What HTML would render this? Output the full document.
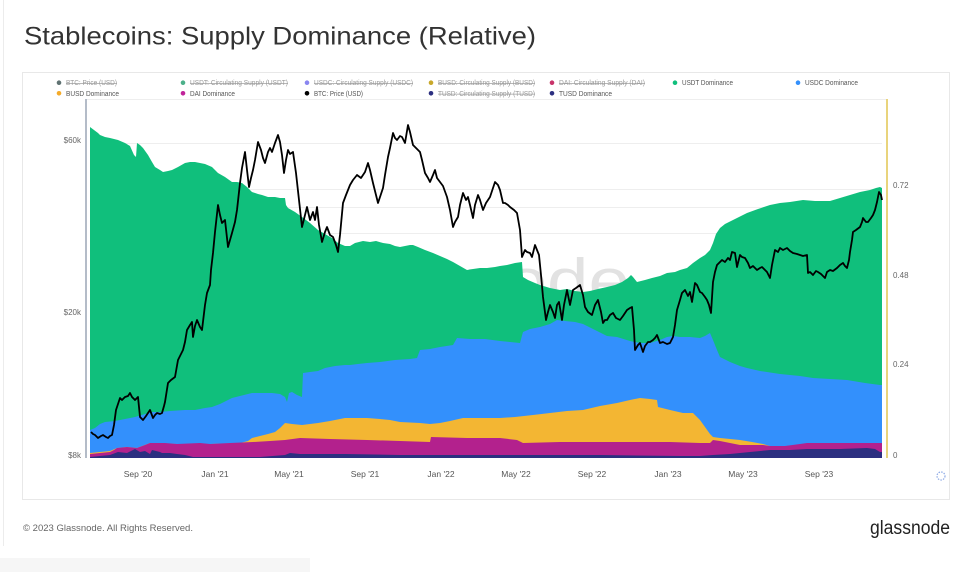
<!DOCTYPE html>
<html><head><meta charset="utf-8"><style>
html,body{margin:0;padding:0;background:#fff;}
svg{display:block;}
text{font-family:"Liberation Sans",Arial,sans-serif;}
</style></head><body>
<svg width="972" height="572" viewBox="0 0 972 572" xmlns="http://www.w3.org/2000/svg">
<rect x="0" y="0" width="972" height="572" fill="#fff"/>
<line x1="3.5" y1="0" x2="3.5" y2="546" stroke="#ececec" stroke-width="1"/>
<rect x="0" y="558" width="310" height="14" fill="#f6f6f6"/>

<text x="24" y="44.5" font-size="25" fill="#333" textLength="512" lengthAdjust="spacingAndGlyphs">Stablecoins: Supply Dominance (Relative)</text>

<rect x="22.5" y="72.5" width="927" height="427" fill="#fff" stroke="#e8e8e8" stroke-width="1"/>

<!-- legend -->
<g font-size="7">
<circle cx="59" cy="82.7" r="2.3" fill="#5f7272"/>
<text x="66" y="85.2" fill="#999" textLength="51" lengthAdjust="spacingAndGlyphs" style="text-decoration:line-through">BTC: Price (USD)</text>
<circle cx="183" cy="82.7" r="2.3" fill="#4cb08a"/>
<text x="190" y="85.2" fill="#999" textLength="98" lengthAdjust="spacingAndGlyphs" style="text-decoration:line-through">USDT: Circulating Supply (USDT)</text>
<circle cx="307" cy="82.7" r="2.3" fill="#8a86f0"/>
<text x="314" y="85.2" fill="#999" textLength="99" lengthAdjust="spacingAndGlyphs" style="text-decoration:line-through">USDC: Circulating Supply (USDC)</text>
<circle cx="431" cy="82.7" r="2.3" fill="#c8a82a"/>
<text x="438" y="85.2" fill="#999" textLength="97" lengthAdjust="spacingAndGlyphs" style="text-decoration:line-through">BUSD: Circulating Supply (BUSD)</text>
<circle cx="552" cy="82.7" r="2.3" fill="#c8336a"/>
<text x="559" y="85.2" fill="#999" textLength="86" lengthAdjust="spacingAndGlyphs" style="text-decoration:line-through">DAI: Circulating Supply (DAI)</text>
<circle cx="675" cy="82.7" r="2.3" fill="#10bf7c"/>
<text x="682" y="85.2" fill="#555" textLength="51" lengthAdjust="spacingAndGlyphs">USDT Dominance</text>
<circle cx="798" cy="82.7" r="2.3" fill="#3390fc"/>
<text x="805" y="85.2" fill="#555" textLength="53" lengthAdjust="spacingAndGlyphs">USDC Dominance</text>

<circle cx="59" cy="93.3" r="2.3" fill="#f5ab2a"/>
<text x="66" y="95.8" fill="#555" textLength="53" lengthAdjust="spacingAndGlyphs">BUSD Dominance</text>
<circle cx="183" cy="93.3" r="2.3" fill="#c0249a"/>
<text x="190" y="95.8" fill="#555" textLength="45" lengthAdjust="spacingAndGlyphs">DAI Dominance</text>
<circle cx="307" cy="93.3" r="2.3" fill="#000"/>
<text x="314" y="95.8" fill="#555" textLength="49" lengthAdjust="spacingAndGlyphs">BTC: Price (USD)</text>
<circle cx="431" cy="93.3" r="2.3" fill="#2c2f80"/>
<text x="438" y="95.8" fill="#999" textLength="97" lengthAdjust="spacingAndGlyphs" style="text-decoration:line-through">TUSD: Circulating Supply (TUSD)</text>
<circle cx="552" cy="93.3" r="2.3" fill="#2c2f80"/>
<text x="559" y="95.8" fill="#555" textLength="53" lengthAdjust="spacingAndGlyphs">TUSD Dominance</text>
</g>

<!-- gridlines -->
<g stroke="#eeeeee" stroke-width="1">
<line x1="86" y1="99.5" x2="887" y2="99.5"/>
<line x1="90" y1="143.5" x2="882" y2="143.5"/>
<line x1="90" y1="189.5" x2="882" y2="189.5"/>
<line x1="90" y1="207.5" x2="882" y2="207.5"/>
<line x1="90" y1="233.5" x2="882" y2="233.5"/>
</g>

<!-- watermark -->
<text x="290" y="302" font-size="62" fill="#e2e2e2" textLength="340" lengthAdjust="spacingAndGlyphs">glassnode</text>

<!-- USDT (green) -->
<polygon fill="#10bf7c" points="90,127 98,133 100,135 105,137 110,138 118,140 125,143 130,146 134,155 136,157 137,143 140,145 143,148 148,155 152,162 155,167 160,170 163,172 168,171 172,170 178,167 185,163 190,162 195,162 200,163 205,164 212,167 215,170 218,173 225,177 232,182 237,182 242,183 247,187 252,192 258,194 262,195 268,197 275,197 280,198 285,198 286,205 288,208 295,212 302,217 310,223 318,230 325,234 332,238 338,243 345,246 350,246 355,243 363,241 370,242 376,241 383,243 390,244 395,246 400,247 405,246 410,245 413,245 418,247 425,250 433,253 440,256 447,259 453,262 460,266 467,270 473,269 480,268 487,268 495,267 500,266 507,265 515,263 522,262 523,277 528,280 535,283 540,285 550,288 560,290 567,289 575,291 583,292 590,291 598,289 607,287 615,285 622,282 628,278 631,275 633,277 637,282 645,280 652,278 660,276 667,273 675,272 680,270 687,268 693,263 700,258 705,255 710,250 713,243 716,234 720,228 725,224 735,219 747,213 758,209 770,205 780,203 790,202 803,200 815,201 830,201 840,198 850,195 860,192 870,190 876,188 880,187 882,188 882,458 90,458"/>

<!-- USDC (blue) -->
<polygon fill="#3390fc" points="90,430 95,428 100,424 105,422 115,421 125,419 135,417 145,414 152,412 160,412 170,411 185,410 195,410 205,408 212,407 220,404 226,401 232,398 240,396 252,393 262,393 272,393 280,394 285,397 287,402 289,393 292,392 297,395 302,397 303,373 310,372 318,371 325,368 335,366 345,365 350,365 358,364 367,363 380,362 395,360 410,359 417,358 420,350 430,349 440,347 453,345 457,338 470,339 485,339 500,341 510,342 520,343 523,332 530,329 540,327 550,324 557,320 565,321 575,322 583,324 595,330 607,336 617,337 630,341 640,343 650,343 660,340 667,337 673,336 680,337 690,337 700,338 705,336 710,333 713,340 717,350 720,357 730,362 740,366 747,368 760,371 780,374 800,376 813,378 830,379 847,380 865,383 880,385 882,385 882,458 90,458"/>

<!-- BUSD (yellow) -->
<polygon fill="#f3b633" points="90,453 100,452 110,451 117,448 127,447 137,448 150,443 177,444 210,444 240,443 248,441 252,438 260,436 268,434 275,432 280,428 285,423 292,424 302,425 310,424 318,423 330,421 345,418 360,418 367,418 380,419 390,420 400,422 420,423 430,424 440,423 450,421 463,418 480,418 500,418 515,417 533,415 550,413 567,411 583,410 600,406 617,403 630,400 640,398 650,399 657,400 658,407 670,410 683,413 693,413 700,420 705,427 710,434 713,437 720,438 730,439 740,440 752,442 763,444 770,446 882,447 882,458 90,458"/>

<!-- DAI (magenta) -->
<polygon fill="#b3218d" points="90,454 100,453 110,452 114,450 117,448 127,447 137,448 145,445 150,443 165,443 177,444 200,443 210,444 230,443 253,442 270,441 285,440 300,438 330,439 367,440 400,441 430,442 431,437 467,438 500,438 517,440 523,443 560,442 600,442 633,442 670,442 700,443 710,443 713,440 720,441 740,445 763,445 770,446 785,446 800,444 807,443 850,443 880,443 882,443 882,458 90,458"/>

<!-- TUSD (navy) -->
<polygon fill="#2c2f80" points="90,457 100,456 110,455 118,452 127,453 135,449 140,452 145,451 150,454 152,450 160,452 162,453 170,453 177,454 185,455 193,457 260,457 285,455 290,453 300,454 345,454 400,455 500,455 600,455 680,456 700,456 713,455 730,454 750,452 770,450 790,450 807,449 840,449 867,448 875,449 880,452 882,452 882,458 90,458"/>

<!-- BTC price -->
<polyline fill="none" stroke="#000" stroke-width="1.8" stroke-linejoin="round" points="91,432 93,434 95,435 97,437 98,438 101,436 103,435 106,437 108,438 110,436 112,435 114,425 116,410 118,404 120,398 122,400 125,397 128,396 130,393 132,397 135,400 138,397 140,417 143,420 146,416 150,410 153,418 155,415 157,413 160,414 162,413 164,406 165,402 168,383 171,380 175,377 178,360 180,356 183,350 185,342 187,330 190,325 192,322 193,337 195,326 197,320 200,327 202,330 205,305 207,293 210,285 211,270 213,253 215,232 218,205 220,215 222,223 225,220 228,247 230,240 232,233 235,222 237,210 240,183 242,168 245,152 247,170 249,187 251,178 253,170 255,160 258,142 261,150 263,158 265,163 268,152 270,148 272,152 275,143 278,135 280,142 282,155 284,173 286,160 288,150 290,154 293,152 296,173 299,200 302,227 305,215 307,207 310,220 313,212 315,220 317,207 319,225 322,242 325,232 327,227 330,235 333,237 336,245 338,252 340,235 343,203 346,195 350,185 353,180 357,175 361,178 365,172 368,163 370,170 373,183 376,195 378,203 380,197 383,188 385,175 388,157 390,148 393,133 395,138 397,140 400,136 402,137 405,143 408,125 410,132 413,145 416,148 420,152 422,160 425,173 428,178 430,182 433,175 435,170 437,178 440,182 443,186 447,197 450,210 453,227 455,222 458,217 460,205 463,193 466,200 468,197 470,205 473,218 475,205 478,195 480,200 483,210 486,203 490,197 493,188 495,182 498,185 500,190 503,203 505,203 508,205 510,207 514,210 517,213 520,230 522,257 525,250 527,252 530,253 532,257 535,245 537,250 539,255 541,275 543,297 546,320 548,312 550,305 553,312 555,318 557,305 559,302 562,320 564,305 567,290 570,305 573,290 576,288 580,285 583,295 585,307 588,312 592,315 595,305 598,300 601,312 603,323 605,320 607,320 610,315 613,313 616,318 620,320 623,316 627,310 630,308 632,307 634,330 635,350 638,345 640,343 643,352 645,346 648,342 650,342 653,340 655,338 657,335 660,343 663,342 667,344 670,343 673,337 675,325 677,310 680,300 682,293 685,290 688,296 690,292 692,302 695,283 697,285 700,292 702,293 705,297 707,300 709,305 711,313 713,282 715,272 717,265 720,262 722,260 725,262 728,258 730,260 732,252 735,253 737,267 740,255 742,257 745,258 748,263 750,268 753,266 757,270 760,268 762,267 765,270 767,272 770,278 772,265 775,250 778,252 780,248 783,250 787,248 790,251 793,253 797,254 800,255 803,256 807,255 808,273 810,272 813,275 816,271 818,272 821,274 825,278 827,272 830,270 833,271 837,268 840,265 843,263 845,266 847,268 849,260 850,252 852,240 853,232 856,230 860,227 862,222 863,218 866,222 868,222 871,218 873,215 875,210 877,202 879,192 881,195 882,200"/>

<!-- axes -->
<line x1="86" y1="99" x2="86" y2="458" stroke="#b4bcc8" stroke-width="2"/>
<line x1="887" y1="99" x2="887" y2="458" stroke="#e9d47c" stroke-width="2"/>

<!-- left ticks -->
<g font-size="8" fill="#666" text-anchor="end">
<text x="81" y="143">$60k</text>
<text x="81" y="315">$20k</text>
<text x="81" y="458">$8k</text>
</g>
<!-- right ticks -->
<g font-size="8" fill="#666">
<text x="893" y="188">0.72</text>
<text x="893" y="278">0.48</text>
<text x="893" y="367">0.24</text>
<text x="893" y="458">0</text>
</g>
<!-- x ticks -->
<g font-size="8.5" fill="#555" text-anchor="middle">
<text x="138" y="477">Sep '20</text>
<text x="215" y="477">Jan '21</text>
<text x="289" y="477">May '21</text>
<text x="365" y="477">Sep '21</text>
<text x="441" y="477">Jan '22</text>
<text x="516" y="477">May '22</text>
<text x="592" y="477">Sep '22</text>
<text x="668" y="477">Jan '23</text>
<text x="743" y="477">May '23</text>
<text x="819" y="477">Sep '23</text>
</g>

<circle cx="941" cy="476" r="4" fill="none" stroke="#8fabe6" stroke-width="1.2" stroke-dasharray="1.5 1.2"/>

<!-- footer -->
<text x="23" y="531" font-size="9.5" fill="#666" textLength="170" lengthAdjust="spacingAndGlyphs">© 2023 Glassnode. All Rights Reserved.</text>
<text x="870" y="534" font-size="19" fill="#222" textLength="80" lengthAdjust="spacingAndGlyphs">glassnode</text>
</svg>
</body></html>
